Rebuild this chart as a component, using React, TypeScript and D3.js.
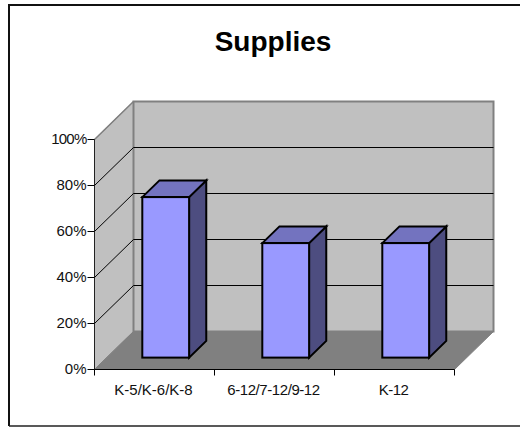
import React from "react";
import * as d3 from "d3";

const title = "Supplies";
const categories = ["K-5/K-6/K-8", "6-12/7-12/9-12", "K-12"];
const values = [70, 50, 50];
const yTicks = [0, 20, 40, 60, 80, 100];

const W = 520, H = 427;
const x = d3.scaleBand<string>().domain(categories).range([94.5, 454.5]);
const y = d3.scaleLinear().domain([0, 100]).range([369.5, 139.5]);
const depthX = d3.scaleLinear().domain([0, 1]).range([0, 39]);
const depthY = d3.scaleLinear().domain([0, 1]).range([0, -38]);
const BAR_FRONT = 0.3, BAR_BACK = 0.74, BAR_W = 0.39;

const pt = (px: number, py: number, t: number) => `${px + depthX(t)},${py + depthY(t)}`;
const poly = (...p: string[]) => p.join(" ");

// The reference sets each "1" tightly against the next glyph; spread that over the label.
function spacing(label: string, gap: number) {
  const ones = label.split("").filter((ch, i) => ch === "1" && i < label.length - 1).length;
  return (ones * gap) / label.length;
}

export default function App() {
  const [x0, x1] = x.range();
  const y0 = y(0), y100 = y(100);
  return (
    <svg width={W} height={H} viewBox={`0 0 ${W} ${H}`} style={{ position: "fixed", left: 0, top: 0, background: "#fff" }} fontFamily="'Liberation Sans', Arial, sans-serif">
      <path d="M9,426V5H520" fill="none" stroke="#111" strokeWidth={2} />
      <path d="M9,426H520" fill="none" stroke="#222" strokeWidth={1.5} />
      <text x={273} y={51} textAnchor="middle" fontSize={28} fontWeight="bold" fill="#000">{title}</text>

      {/* walls */}
      <polygon points={poly(pt(x0, y100, 0), pt(x0, y100, 1), pt(x0, y0, 1), pt(x0, y0, 0))} fill="#c0c0c0" stroke="#808080" strokeWidth={1} />
      <polygon points={poly(pt(x0, y100, 1), pt(x1, y100, 1), pt(x1, y0, 1), pt(x0, y0, 1))} fill="#c0c0c0" stroke="#808080" strokeWidth={2} />
      <polygon points={poly(pt(x0, y0, 0), pt(x1, y0, 0), pt(x1, y0, 1), pt(x0, y0, 1))} fill="#808080" stroke="#808080" />

      {/* gridlines */}
      {yTicks.filter((t) => t > 0 && t < 100).map((t) => (
        <polyline key={t} points={poly(pt(x0, y(t), 0), pt(x0, y(t), 1), pt(x1, y(t), 1))} fill="none" stroke="#000" strokeWidth={1} />
      ))}
      <line x1={x0} x2={x0 + depthX(1)} y1={y100} y2={y100 + depthY(1)} stroke="#808080" strokeWidth={1.5} />

      {/* bars */}
      {categories.map((c, i) => {
        const bw = x.bandwidth();
        const left = x(c)! + bw * (0.5 - BAR_W / 2) + depthX(BAR_FRONT) - 0.5;
        const right = left + bw * BAR_W;
        const top = y(values[i]) + depthY(BAR_FRONT);
        const bot = y0 + depthY(BAR_FRONT) - 0.5;
        const d = BAR_BACK - BAR_FRONT;
        return (
          <g key={c} stroke="#000" strokeWidth={2} strokeLinejoin="miter">
            <polygon points={poly(pt(right, top, 0), pt(right, top, d), pt(right, bot, d), pt(right, bot, 0))} fill="#4d4d80" />
            <polygon points={poly(pt(left, top, 0), pt(left, top, d), pt(right, top, d), pt(right, top, 0))} fill="#7373bf" />
            <rect x={left} y={top} width={right - left} height={bot - top} fill="#9999ff" />
          </g>
        );
      })}

      {/* axes */}
      <line x1={x0} x2={x0} y1={y100} y2={y0} stroke="#222" />
      <line x1={x0} x2={x1} y1={y0} y2={y0} stroke="#000" />
      {yTicks.map((t) => (
        <g key={t}>
          <line x1={x0 - 7} x2={x0} y1={y(t)} y2={y(t)} stroke="#000" />
          <text x={x0 - 8} y={y(t) + 4} textAnchor="end" fontSize={15} letterSpacing={spacing(`${t}%`, -3)} fill="#111">{t}%</text>
        </g>
      ))}
      {[...categories.map((c) => x(c)!), x1].map((v, i) => (
        <line key={i} x1={v} x2={v} y1={y0} y2={y0 + 6} stroke="#000" />
      ))}
      {categories.map((c) => (
        <text key={c} x={x(c)! + x.bandwidth() / 2 - 1} y={395} textAnchor="middle" fontSize={15} letterSpacing={spacing(c, -2)} fill="#111">{c}</text>
      ))}
    </svg>
  );
}
